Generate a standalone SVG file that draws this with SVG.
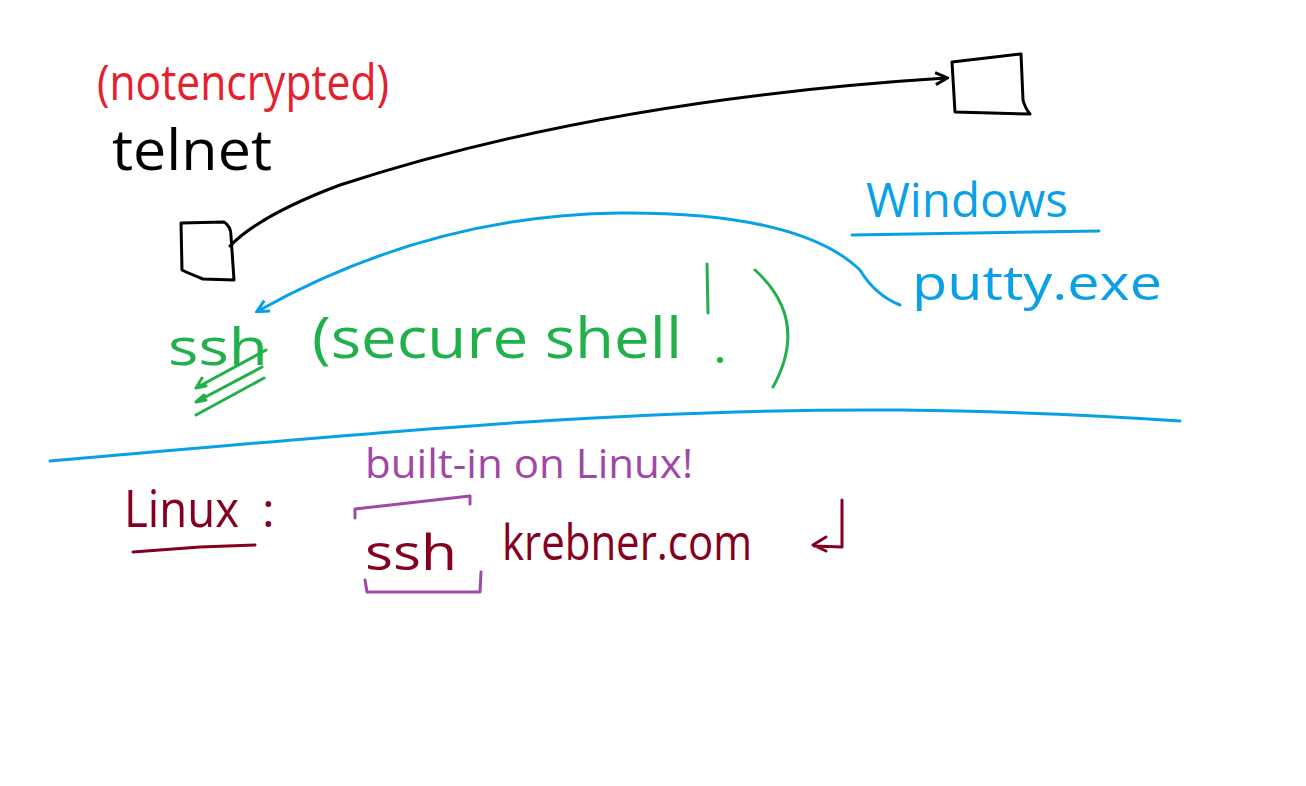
<svg xmlns="http://www.w3.org/2000/svg" width="1306" height="786" viewBox="0 0 1306 786">
<style>
.t{font-family:"Open Sans","Liberation Sans",sans-serif;}
.s{fill:none;stroke-linecap:round;stroke-linejoin:round;stroke-width:3;}
.blk{stroke:#000;}
.blu{stroke:#0aa0e6;}
.grn{stroke:#22b04a;}
.dred{stroke:#850020;}
.pur{stroke:#a048a8;}
</style>
<defs>
<marker id="ab" viewBox="0 0 10 10" refX="8" refY="5" markerWidth="5" markerHeight="5" orient="auto"><path d="M1,1 L9,5 L1,9" fill="none" stroke="#000" stroke-width="2"/></marker>
<marker id="ablu" viewBox="0 0 10 10" refX="8" refY="5" markerWidth="5" markerHeight="5" orient="auto"><path d="M1,1 L9,5 L1,9" fill="none" stroke="#0aa0e6" stroke-width="2"/></marker>
</defs>
<rect width="1306" height="786" fill="#fff"/>
<g id="telnet-label">
<text class="t" x="97" y="100" font-size="50" fill="#e5202c" textLength="292" lengthAdjust="spacingAndGlyphs">(notencrypted)</text>
<text class="t" x="112" y="170" font-size="56" fill="#000" textLength="160" lengthAdjust="spacingAndGlyphs">telnet</text>
</g>
<g id="box-left">
<path class="s blk" d="M181,223 L224,222 Q231,226 231,236 L234,280 L203,279 Q188,273 182,270 Z"/>
</g>
<g id="box-right">
<path class="s blk" d="M952,62 L1021,54 L1023,100 Q1025,108 1030,114 L955,112 Z"/>
</g>
<g id="windows">
<text class="t" x="866" y="217" font-size="48" fill="#0aa0e6" textLength="202" lengthAdjust="spacingAndGlyphs">Windows</text>
<path class="s blu" d="M852,235 L1099,231"/>
<text class="t" x="912" y="300" font-size="48" fill="#0aa0e6" textLength="250" lengthAdjust="spacingAndGlyphs">putty.exe</text>
</g>
<g id="ssh-label">
<text class="t" x="168" y="365" font-size="52" fill="#22b04a" textLength="100" lengthAdjust="spacingAndGlyphs">ssh</text>
<text class="t" x="312" y="358" font-size="56" fill="#22b04a" textLength="370" lengthAdjust="spacingAndGlyphs">(secure shell</text>
<path class="s grn" d="M707,264 L708,313"/>
<circle cx="720" cy="360" r="3" fill="#22b04a"/>
<path class="s grn" d="M755,270 Q810,320 773,387"/>
<path class="s grn" d="M266,350 L196,388 M262,367 L196,402 M264,378 L196,415 M202,378 L196,388 L206,386 M204,395 L196,402 L206,400"/>
</g>
<g id="divider">
<path class="s blu" d="M50,461 C300,440 600,408 900,410 Q1050,412 1180,421"/>
</g>
<g id="linux">
<text class="t" x="124" y="527" font-size="52" fill="#850020" textLength="115" lengthAdjust="spacingAndGlyphs">Linux</text>
<text class="t" x="262" y="527" font-size="48" fill="#850020">:</text>
<path class="s dred" d="M133,552 L200,547 L255,545"/>
</g>
<g id="builtin">
<text class="t" x="365" y="478" font-size="40" fill="#a048a8" textLength="328" lengthAdjust="spacingAndGlyphs">built-in on Linux!</text>
<path class="s pur" d="M355,518 L355,509 L470,496 L470,504"/>
<path class="s pur" d="M365,580 L367,592 L480,592 L481,572"/>
</g>
<g id="command">
<text class="t" x="365" y="570" font-size="50" fill="#850020" textLength="92" lengthAdjust="spacingAndGlyphs">ssh</text>
<text class="t" x="502" y="560" font-size="50" fill="#850020" textLength="250" lengthAdjust="spacingAndGlyphs">krebner.com</text>
<path class="s dred" d="M842,500 L842,547 L814,546 M826,537 L813,545 L826,551"/>
</g>
<g id="connectors">
<path class="s blk" d="M230,246 Q260,215 340,185 Q600,100 946,78" marker-end="url(#ab)"/>
<path class="s blu" d="M900,305 Q875,295 860,270 Q800,212 620,213 Q430,215 258,311" marker-end="url(#ablu)"/>
</g>
</svg>
